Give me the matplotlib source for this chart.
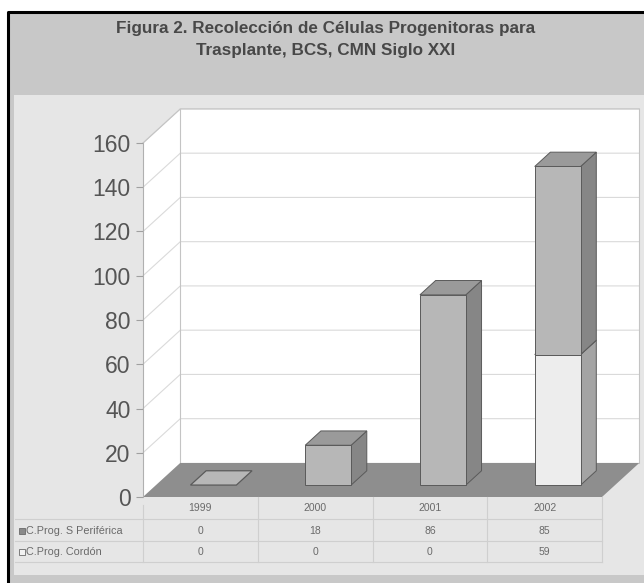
import matplotlib
matplotlib.use("Agg")
import matplotlib.pyplot as plt
from matplotlib.patches import Polygon, Rectangle
from matplotlib.transforms import blended_transform_factory

plt.rcParams['font.family'] = ['Liberation Sans', 'DejaVu Sans']

# data
years = ['1999', '2000', '2001', '2002']
periferica = [0, 18, 86, 85]
cordon = [0, 0, 0, 59]
row_labels = ['C.Prog. S Periférica', 'C.Prog. Cordón']
yticks = list(range(0, 161, 20))

W, H = 644, 583
fig = plt.figure(figsize=(W / 100, H / 100), dpi=100)


def fx(x):
    return x / W


def fy(y):
    return 1 - y / H


# frame and panel backgrounds
fig.patches.append(Rectangle((fx(8), fy(583)), fx(636), 571 / H, transform=fig.transFigure,
                             facecolor='#c8c8c8', edgecolor='none', zorder=-2))
fig.patches.append(Rectangle((fx(14), fy(575)), fx(630), 480 / H, transform=fig.transFigure,
                             facecolor='#e6e6e6', edgecolor='none', zorder=-1))
fig.lines.append(plt.Line2D([fx(8), fx(8), fx(644)], [fy(583), fy(12), fy(12)],
                            transform=fig.transFigure, color='black', lw=2.2, zorder=1))

fig.text(fx(326), fy(29), 'Figura 2. Recolección de Células Progenitoras para',
         ha='center', va='center', fontsize=12.3, fontweight='bold', color='#484848')
fig.text(fx(326), fy(51), 'Trasplante, BCS, CMN Siglo XXI',
         ha='center', va='center', fontsize=12.3, fontweight='bold', color='#484848')

# front plane axes
ax = fig.add_axes([fx(143), fy(497), 459 / W, 354 / H])
ax.set_xlim(0, 4)
ax.set_ylim(0, 160)
ax.patch.set_visible(False)
for s in ['top', 'right', 'bottom']:
    ax.spines[s].set_visible(False)
ax.spines['left'].set_color('#b0b0b0')
ax.spines['left'].set_linewidth(0.8)
ax.set_xticks([])
ax.set_yticks(yticks)
ax.tick_params(axis='y', length=5, width=0.8, color='#a0a0a0', labelsize=16.5,
               labelcolor='#555555', pad=4)

# depth offsets in data units
DX, DY = 0.325, 15.4


def proj(x, y, d):
    return (x + DX * d, y + DY * d)


def poly(pts, fc, ec='none', lw=0.0, z=1):
    ax.add_patch(Polygon(pts, closed=True, facecolor=fc, edgecolor=ec, lw=lw,
                         zorder=z, clip_on=False))


n = len(years)
top = max(yticks)

# walls and floor
poly([proj(0, 0, 0), proj(0, top, 0), proj(0, top, 1), proj(0, 0, 1)], 'white', z=0.5)
poly([proj(0, 0, 1), proj(0, top, 1), proj(n, top, 1), proj(n, 0, 1)], 'white', z=0.5)
for v in yticks[1:]:
    a, b, c = proj(0, v, 0), proj(0, v, 1), proj(n, v, 1)
    ax.plot([a[0], b[0], c[0]], [a[1], b[1], c[1]], color='#dadada', lw=0.8,
            zorder=0.6, clip_on=False)
for pts in ([proj(0, top, 0), proj(0, top, 1), proj(n, top, 1)],
            [proj(0, 0, 1), proj(0, top, 1)],
            [proj(n, 0, 1), proj(n, top, 1)]):
    ax.plot([p[0] for p in pts], [p[1] for p in pts], color='#c4c4c4', lw=0.8,
            zorder=0.6, clip_on=False)
poly([proj(0, 0, 0), proj(n, 0, 0), proj(n, 0, 1), proj(0, 0, 1)], '#8e8e8e', z=0.7)

# bars
w, d0, d1 = 0.2, 0.35, 0.77
edge = '#5a5a5a'
styles = {'per': ('#b7b7b7', '#9a9a9a', '#868686'),
          'cor': ('#ededed', '#d0d0d0', '#a4a4a4')}


def box(c, y0, y1, st):
    front, topc, side = styles[st]
    poly([proj(c + w, y0, d0), proj(c + w, y0, d1), proj(c + w, y1, d1), proj(c + w, y1, d0)],
         side, edge, 0.7, 2)
    poly([proj(c - w, y1, d0), proj(c + w, y1, d0), proj(c + w, y1, d1), proj(c - w, y1, d1)],
         topc, edge, 0.7, 2)
    poly([proj(c - w, y0, d0), proj(c + w, y0, d0), proj(c + w, y1, d0), proj(c - w, y1, d0)],
         front, edge, 0.7, 2)


for i in range(n):
    c = i + 0.5
    low, high = cordon[i], cordon[i] + periferica[i]
    if high == 0:
        poly([proj(c - w, 0, d0), proj(c + w, 0, d0), proj(c + w, 0, d1), proj(c - w, 0, d1)],
             '#b7b7b7', edge, 0.9, 2)
        continue
    if cordon[i] > 0:
        box(c, 0, low, 'cor')
    if periferica[i] > 0:
        box(c, low, high, 'per')

# data table below the floor
tr = blended_transform_factory(ax.transData, ax.transAxes)
left = (15 - 143) / 114.75


def ay(ypx):
    return (497 - ypx) / 354


line_kw = dict(color='#cfcfcf', lw=0.8, transform=tr, clip_on=False)
for ypx in (519, 541, 562):
    ax.plot([left, n], [ay(ypx), ay(ypx)], **line_kw)
for i in range(1, n + 1):
    ax.plot([i, i], [ay(497), ay(562)], **line_kw)
ax.plot([0, 0], [ay(505), ay(562)], **line_kw)

for i, yr in enumerate(years):
    ax.text(i + 0.5, ay(508), yr, transform=tr, ha='center', va='center',
            fontsize=7.5, color='#6a6a6a')
    ax.text(i + 0.5, ay(531), str(periferica[i]), transform=tr, ha='center', va='center',
            fontsize=7.5, color='#6a6a6a')
    ax.text(i + 0.5, ay(552), str(cordon[i]), transform=tr, ha='center', va='center',
            fontsize=7.5, color='#6a6a6a')

sq = 6 / 114.75
for ypx, label, col in ((531, row_labels[0], '#8a8a8a'), (552, row_labels[1], '#f2f2f2')):
    ax.add_patch(Rectangle((left + 4 / 114.75, ay(ypx + 3)), sq, 6 / 354, transform=tr,
                           facecolor=col, edgecolor='#6a6a6a', lw=0.6, clip_on=False))
    ax.text(left + 11 / 114.75, ay(ypx), label, transform=tr, ha='left', va='center',
            fontsize=7.8, color='#6a6a6a')

fig.savefig('out.png', dpi=100)
